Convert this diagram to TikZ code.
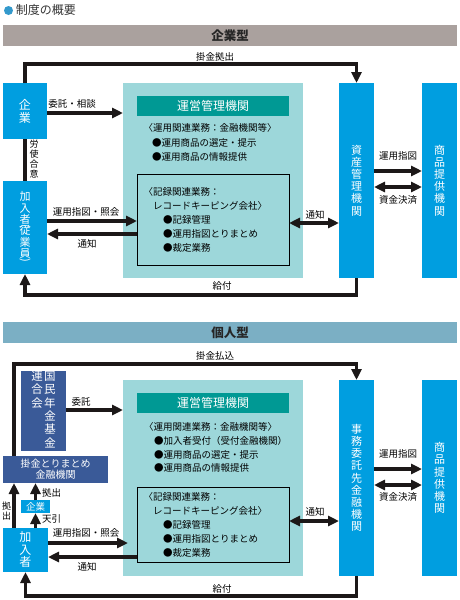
\documentclass[tikz,border=0pt]{standalone}
\usepackage{fontspec}
\setmainfont{Noto Sans CJK JP}
\usetikzlibrary{arrows.meta,calc}
\definecolor{cblue}{RGB}{0,158,224}
\definecolor{cnavy}{RGB}{58,90,152}
\definecolor{clight}{RGB}{157,215,218}
\definecolor{cteal}{RGB}{0,153,148}
\definecolor{chead1}{RGB}{170,161,158}
\definecolor{chead2}{RGB}{123,175,196}
\definecolor{cline}{RGB}{28,24,24}
\definecolor{cdot}{RGB}{51,153,204}
\newcommand\vfont{\fontsize{11}{12.2}\selectfont}
\newcommand\lfont{\fontsize{9.5}{11}\selectfont}
\newcommand\tfont{\fontsize{9.5}{11}\selectfont}
\newcommand\vparo{\rotatebox[origin=c]{-90}{(}}
\newcommand\vparc{\rotatebox[origin=c]{-90}{)}}
\begin{document}
\begin{tikzpicture}[x=1pt,y=-1pt,
  every node/.style={inner sep=0pt,outer sep=0pt},
  boxbase/.style={anchor=north west,align=center},
  bluebox/.style={boxbase,fill=cblue,text=white,font=\vfont},
  navybox/.style={boxbase,fill=cnavy,text=white},
  lightbox/.style={boxbase,fill=clight},
  tealhead/.style={boxbase,fill=cteal,text=white,font=\fontsize{12}{14}\selectfont},
  recbox/.style={boxbase,draw=black,line width=1pt},
  headbar/.style={boxbase,minimum width=454pt,minimum height=21pt},
  headtext/.style={font=\bfseries\fontsize{12.5}{14}\selectfont,text=black!85},
  lbl/.style={font=\lfont,text=black},
  txt/.style={font=\tfont,text=black,anchor=west},
  ln/.style={draw=cline,line width=3.6pt},
  arr/.style={ln,-{Triangle[length=11pt,width=10pt]}},
  darr/.style={ln,{Triangle[length=11pt,width=10pt]}-{Triangle[length=11pt,width=10pt]}}
]
\useasboundingbox (0,0) rectangle (460,600);

% title
\fill[cdot] (8.5,10.5) circle (4.5);
\node[anchor=west,font=\fontsize{12}{14}\selectfont,text=black!80] (title) at (16,10) {制度の概要};

% ===== section 1 =====
\node[headbar,fill=chead1] (hb1) at (3,25) {};
\node[headtext] (ht1) at (hb1.center) {企業型};

\node[bluebox,minimum width=44pt,minimum height=56pt,font=\fontsize{12}{13}\selectfont] (kig1) at (3,83) {企\\業};
\node[bluebox,minimum width=44pt,minimum height=93pt,font=\fontsize{11}{11.5}\selectfont] (kanyu1) at (3,181)
  {加\\入\\者\\[-6pt]\vparo\\[-6pt]従\\業\\員\\[-6pt]\vparc};

\node[lightbox,minimum width=180pt,minimum height=195pt] (unei1) at (123,83) {};
\node[tealhead,minimum width=152pt,minimum height=20pt] (head1) at (137,96) {運営管理機関};
\node[recbox,minimum width=152pt,minimum height=91pt] (rec1) at (137,174) {};
\node[txt] (a1) at (143.5,128) {〈運用関連業務：金融機関等〉};
\node[txt] (a2) at (152,143) {●運用商品の選定・提示};
\node[txt] (a3) at (152,157) {●運用商品の情報提供};
\node[txt] (a4) at (143.5,192) {〈記録関連業務：};
\node[txt] (a5) at (153,206) {レコードキーピング会社〉};
\node[txt] (a6) at (163,220) {●記録管理};
\node[txt] (a7) at (163,234) {●運用指図とりまとめ};
\node[txt] (a8) at (163,248) {●裁定業務};

\node[bluebox,minimum width=35pt,minimum height=195pt] (shisan1) at (339,83) {資\\産\\管\\理\\機\\関};
\node[bluebox,minimum width=35pt,minimum height=195pt] (shohin1) at (422,83) {商\\品\\提\\供\\機\\関};

% connectors section 1
\draw[arr] (kig1.north) -- (kig1.north |- 0,64) -| (shisan1.north);
\draw[ln] (kig1.south) -- (kanyu1.north);
\draw[arr] (kig1.east |- 0,113) -- (unei1.west |- 0,113);
\draw[arr] (kanyu1.east |- 0,221) -- (rec1.west |- 0,221);
\draw[arr] (rec1.west |- 0,234) -- (kanyu1.east |- 0,234);
\draw[darr] (rec1.east |- 0,223) -- (shisan1.west |- 0,223);
\draw[arr] (shisan1.east |- 0,171) -- (shohin1.west |- 0,171);
\draw[darr] (shisan1.east |- 0,187) -- (shohin1.west |- 0,187);
\draw[arr] (shisan1.south) -- (shisan1.south |- 0,295) -| (kanyu1.south);

% labels section 1
\node[lbl] (b1) at (215,57) {掛金拠出};
\node[lbl] (b2) at (72,104) {委託・相談};
\node[lbl,align=center,font=\fontsize{9}{10}\selectfont] (b3) at (34,159) {労\\使\\合\\意};
\node[lbl] (b4) at (86,212) {運用指図・照会};
\node[lbl] (b5) at (87,244) {通知};
\node[lbl] (b6) at (315,215) {通知};
\node[lbl] (b7) at (398,156) {運用指図};
\node[lbl] (b8) at (398,200) {資金決済};
\node[lbl] (b9) at (222,286) {給付};

% ===== section 2 =====
\node[headbar,fill=chead2] (hb2) at (3,322) {};
\node[headtext] (ht2) at (hb2.center) {個人型};

\node[navybox,minimum width=45pt,minimum height=77pt,font=\fontsize{11.5}{12}\selectfont] (kokumin) at (21,371)
  {\begin{tabular}[t]{@{}c@{\hspace{1.5pt}}c@{}}連&国\\合&民\\会&年\\&金\\&基\\&金\end{tabular}};
\node[navybox,minimum width=105pt,minimum height=27pt,font=\fontsize{10}{11}\selectfont] (kakekin) at (3,456) {掛金とりまとめ\\金融機関};
\node[bluebox,minimum width=29pt,minimum height=13pt,font=\fontsize{9.5}{10}\selectfont] (kig2) at (21,500) {企業};
\node[bluebox,minimum width=45pt,minimum height=44pt,font=\fontsize{12}{12.5}\selectfont] (kanyu2) at (3,528) {加\\入\\者};

\node[lightbox,minimum width=180pt,minimum height=196pt] (unei2) at (123,380) {};
\node[tealhead,minimum width=152pt,minimum height=20pt] (head2) at (137,393) {運営管理機関};
\node[recbox,minimum width=152pt,minimum height=75pt] (rec2) at (137,487) {};
\node[txt] (c1) at (144,427) {〈運用関連業務：金融機関等〉};
\node[txt] (c2) at (154,441) {●加入者受付（受付金融機関）};
\node[txt] (c3) at (154,455) {●運用商品の選定・提示};
\node[txt] (c4) at (154,468) {●運用商品の情報提供};
\node[txt] (c5) at (143.5,497) {〈記録関連業務：};
\node[txt] (c6) at (153,511) {レコードキーピング会社〉};
\node[txt] (c7) at (163,525) {●記録管理};
\node[txt] (c8) at (163,539) {●運用指図とりまとめ};
\node[txt] (c9) at (163,553) {●裁定業務};

\node[bluebox,minimum width=35pt,minimum height=196pt] (jimu) at (339,380) {事\\務\\委\\託\\先\\金\\融\\機\\関};
\node[bluebox,minimum width=35pt,minimum height=196pt] (shohin2) at (422,380) {商\\品\\提\\供\\機\\関};

% connectors section 2
\coordinate (topc) at (14,364);
\draw[arr] ($(kakekin.north west)+(11,0)$) -- (topc) -| (jimu.north);
\draw[arr] (kokumin.east |- 0,410) -- (unei2.west |- 0,410);
\draw[arr] ($(kanyu2.north west)+(11,0)$) -- ($(kakekin.south west)+(11,0)$);
\draw[arr] (kanyu2.north -| kig2.south) -- (kig2.south);
\draw[arr] (kig2.north) -- (kig2.north |- kakekin.south);
\draw[arr] (kanyu2.east |- 0,543) -- ($(unei2.west |- 0,543)+(5,0)$);
\draw[arr] (rec2.west |- 0,557) -- (kanyu2.east |- 0,557);
\draw[darr] (rec2.east |- 0,521) -- (jimu.west |- 0,521);
\draw[arr] (jimu.east |- 0,469) -- (shohin2.west |- 0,469);
\draw[darr] (jimu.east |- 0,485) -- (shohin2.west |- 0,485);
\draw[arr] (jimu.south) -- (jimu.south |- 0,596) -| (kanyu2.south);

% labels section 2
\node[lbl] (d1) at (215,356) {掛金払込};
\node[lbl] (d2) at (81,402) {委託};
\node[lbl,anchor=west] (d3) at (42,493) {拠出};
\node[lbl,anchor=west] (d4) at (42,519) {天引};
\node[lbl,align=center,font=\fontsize{9}{9.5}\selectfont] (d5) at (6.5,511) {拠\\出};
\node[lbl] (d6) at (86,533) {運用指図・照会};
\node[lbl] (d7) at (87,567) {通知};
\node[lbl] (d8) at (315,512) {通知};
\node[lbl] (d9) at (398,454) {運用指図};
\node[lbl] (d10) at (398,497) {資金決済};
\node[lbl] (d11) at (222,589) {給付};
\end{tikzpicture}
\end{document}
